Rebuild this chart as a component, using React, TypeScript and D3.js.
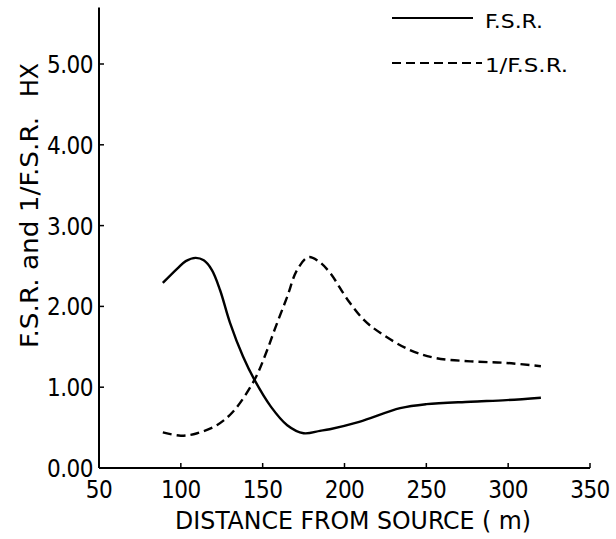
import React from "react";
import * as d3 from "d3";

const xTicks = [50, 100, 150, 200, 250, 300, 350];
const yTicks = [0, 1, 2, 3, 4, 5];
const yTickLabels = ["0.00", "1.00", "2.00", "3.00", "4.00", "5.00"];

const fsrX = [89, 98, 103, 109, 114, 119, 124, 130, 138, 145, 155, 165, 175, 185, 191, 209, 234, 250, 277, 299, 320];
const fsrY = [2.29, 2.47, 2.56, 2.6, 2.57, 2.45, 2.2, 1.8, 1.38, 1.09, 0.76, 0.53, 0.43, 0.46, 0.48, 0.57, 0.74, 0.79, 0.82, 0.84, 0.87];

const invX = [89, 100, 110, 122, 132, 145, 152, 158, 165, 171, 178, 184, 191, 202, 212, 222, 240, 256, 277, 299, 320];
const invY = [0.44, 0.4, 0.43, 0.53, 0.7, 1.09, 1.42, 1.75, 2.12, 2.45, 2.61, 2.56, 2.42, 2.08, 1.83, 1.67, 1.46, 1.36, 1.32, 1.3, 1.26];

const seriesNames = ["F.S.R.", "1/F.S.R."];
const xTitle = "DISTANCE FROM SOURCE ( m)";
const yTitleMain = "F.S.R. and 1/F.S.R.";
const yTitleUnit = "HX";

const FONT = "'DejaVu Sans Condensed', 'DejaVu Sans', sans-serif";

export default function App() {
  const x = d3.scaleLinear().domain([50, 350]).range([99, 590]);
  const y = d3.scaleLinear().domain([0, 5]).range([468, 64]);
  const line = d3
    .line<[number, number]>()
    .x((d) => x(d[0]))
    .y((d) => y(d[1]))
    .curve(d3.curveCatmullRom.alpha(0.5));
  const fsr = fsrX.map((v, i) => [v, fsrY[i]] as [number, number]);
  const inv = invX.map((v, i) => [v, invY[i]] as [number, number]);

  return (
    <svg
      width={616}
      height={539}
      style={{ position: "absolute", left: 0, top: 0, background: "#fff" }}
      fontFamily={FONT}
      fontStretch="condensed"
    >
      {/* axes */}
      <line x1={x(50)} x2={x(50)} y1={y(0)} y2={y(5.7)} stroke="#000" strokeWidth={2} />
      <line x1={x(50)} x2={x(350)} y1={y(0)} y2={y(0)} stroke="#000" strokeWidth={2} />
      {yTicks.map((t, i) => (
        <g key={"y" + t}>
          {t > 0 && <line x1={x(50)} x2={x(50) + 5} y1={y(t)} y2={y(t)} stroke="#000" strokeWidth={1.5} />}
          <text x={93} y={y(t) + 9} textAnchor="end" fontSize={24} fill="#000" letterSpacing={-0.5}>
            {yTickLabels[i]}
          </text>
        </g>
      ))}
      {xTicks.map((t) => (
        <g key={"x" + t}>
          {t > 50 && <line x1={x(t)} x2={x(t)} y1={y(0)} y2={y(0) - 5} stroke="#000" strokeWidth={1.5} />}
          <text x={x(t)} y={498} textAnchor="middle" fontSize={24} fill="#000" letterSpacing={-0.5}>
            {t}
          </text>
        </g>
      ))}
      <text x={353} y={529} textAnchor="middle" fontSize={25} fill="#000" textLength={356} lengthAdjust="spacingAndGlyphs">
        {xTitle}
      </text>
      <text transform="translate(38,348) rotate(-90)" fontSize={24} fill="#000" textLength={231} lengthAdjust="spacingAndGlyphs">
        {yTitleMain}
      </text>
      <text transform="translate(38,97) rotate(-90)" fontSize={24} fill="#000" textLength={34} lengthAdjust="spacingAndGlyphs">
        {yTitleUnit}
      </text>

      {/* curves */}
      <path d={line(fsr) || ""} fill="none" stroke="#000" strokeWidth={2.4} />
      <path d={line(inv) || ""} fill="none" stroke="#000" strokeWidth={2.4} strokeDasharray="9,5" />

      {/* legend */}
      <line x1={392} x2={473} y1={18} y2={18} stroke="#000" strokeWidth={2} />
      <text x={485} y={28} fontSize={20} fill="#000" textLength={58} lengthAdjust="spacingAndGlyphs">
        {seriesNames[0]}
      </text>
      <line x1={392} x2={482} y1={63} y2={63} stroke="#000" strokeWidth={2} strokeDasharray="9,5" />
      <text x={485} y={72} fontSize={20} fill="#000" textLength={83} lengthAdjust="spacingAndGlyphs">
        {seriesNames[1]}
      </text>
    </svg>
  );
}
